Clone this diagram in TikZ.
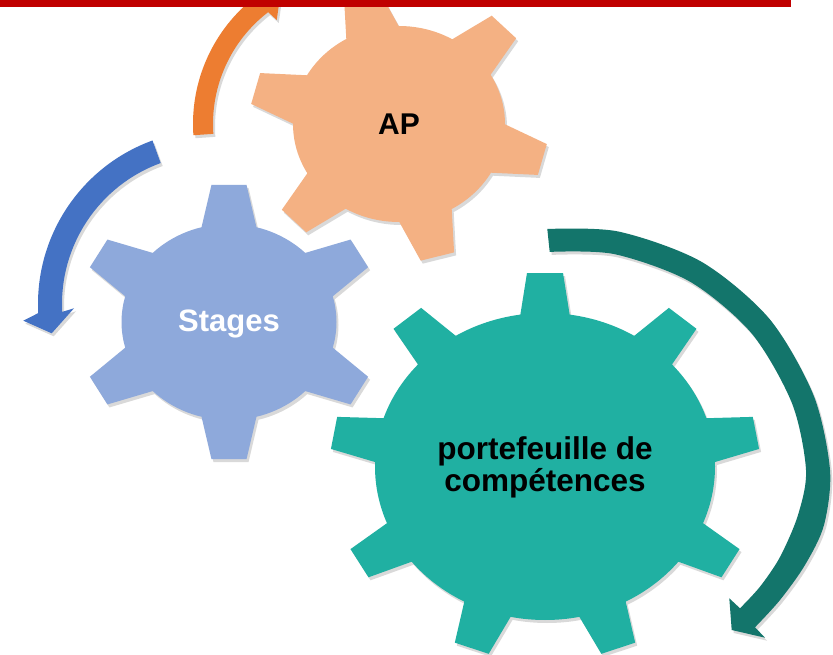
\documentclass[tikz,border=0pt]{standalone}
\usepackage{fontspec}
\setmainfont{Liberation Sans}
\definecolor{apfill}{HTML}{F4B183}
\definecolor{stfill}{HTML}{8EA9DB}
\definecolor{pcfill}{HTML}{20B0A2}
\definecolor{pcarrow}{HTML}{13756B}
\definecolor{bluearr}{HTML}{4472C4}
\definecolor{orangearr}{HTML}{ED7D31}
\definecolor{redbar}{HTML}{C00000}
% #1 style, #2 tooth angles, #3 base radius, #4 base half-angle, #5 tip radius, #6 tip half-angle
\newcommand\gearpath[6]{%
  \fill[#1] (0,0) circle (100)
    \foreach \a in {#2} { (\a-#4:#3) -- (\a-#6:#5) -- (\a+#6:#5) -- (\a+#4:#3) -- cycle };}
\newcommand\bluearrowpath[1]{%
  \fill[#1] ([shift={(212,350)}]110:174) arc[start angle=110,end angle=183,radius=174]
    -- (23.3,654-320.7) -- (51.7,654-333.3) -- (74,654-308.3)
    -- ([shift={(212,350)}]183:150) arc[start angle=183,end angle=110,radius=150] -- cycle;}
\newcommand\orangearrowpath[1]{%
  \fill[#1] ([shift={(354,530)}]184:161) arc[start angle=184,end angle=127.5,radius=161]
    -- ([shift={(354,530)}]127.5:175) -- ([shift={(354,530)}]119:151) -- (276.7,654-20)
    -- ([shift={(354,530)}]127.5:141) arc[start angle=127.5,end angle=184,radius=141] -- cycle;}
\newcommand\tealarrowpath[1]{%
  \fill[#1] plot[smooth] coordinates {(547.3,654-229) (618.3,654-231.5) (701.5,654-261.8)
      (769.3,654-318.7) (813.6,654-395.4) (830,654-470) (824,654-525)
      (805,654-565) (780,654-600) (755,654-627.3)}
    -- (765,654-637.7) -- (731.7,654-630) -- (729.3,654-598.3)
    -- plot[smooth] coordinates {(740,654-608.3) (760,654-586.7) (780,654-557)
      (798,654-515) (806,654-470) (792,654-403.3) (751.7,654-333.5) (690,654-281.7)
      (614.3,654-254.1) (549.7,654-251.9)} -- cycle;}
\begin{document}
\begin{tikzpicture}[x=1pt,y=1pt,
  shadowsty/.style={fill=black,fill opacity=0.15},
  gtext/.style={font=\bfseries\fontsize{31}{32.4}\selectfont,align=center,inner sep=0pt}]
\useasboundingbox (0,0) rectangle (833,654);
\clip (0,0) rectangle (833,654);
\fill[white] (0,0) rectangle (833,654);

% AP gear
\begin{scope}[shift={(401,527)},xscale=1.06,yscale=0.98]
  \gearpath{shadowsty}{45,105,...,345}{93.96}{16.70}{140.95}{6.64}
\end{scope}
\begin{scope}[shift={(399,530)},xscale=1.06,yscale=0.98]
  \gearpath{fill=apfill}{45,105,...,345}{93.96}{16.70}{140.95}{6.64}
\end{scope}

% Stages gear
\begin{scope}[shift={(231,329)},xscale=1.075,yscale=0.98]
  \gearpath{shadowsty}{90,150,...,390}{93.96}{16.70}{140.95}{6.64}
\end{scope}
\begin{scope}[shift={(229,332)},xscale=1.075,yscale=0.98]
  \gearpath{fill=stfill}{90,150,...,390}{93.96}{16.70}{140.95}{6.64}
\end{scope}

% portefeuille gear
\begin{scope}[shift={(547,184.5)},xscale=1.70,yscale=1.535]
  \gearpath{shadowsty}{90,130,...,410}{95.22}{9.19}{126.45}{4.81}
\end{scope}
\begin{scope}[shift={(545,187.5)},xscale=1.70,yscale=1.535]
  \gearpath{fill=pcfill}{90,130,...,410}{95.22}{9.19}{126.45}{4.81}
\end{scope}

% circular arrows
\bluearrowpath{shadowsty,shift={(2,-3)}}
\bluearrowpath{fill=bluearr}
\orangearrowpath{shadowsty,shift={(2,-3)}}
\orangearrowpath{fill=orangearr}
\tealarrowpath{shadowsty,shift={(2,-3)}}
\tealarrowpath{fill=pcarrow}

% texts
\node[gtext,font=\bfseries\fontsize{30}{32}\selectfont,anchor=base] (ap) at (399,654-135) {AP};
\node[gtext,text=white,anchor=base] (stages) at (229,654-331.7) {Stages};
\node[gtext,font=\bfseries\fontsize{31.5}{32.4}\selectfont] (pc) at (545,654-467.3) {portefeuille de\\compétences};

% top red bar
\fill[redbar] (0,654) rectangle (790.7,647);
\end{tikzpicture}
\end{document}
